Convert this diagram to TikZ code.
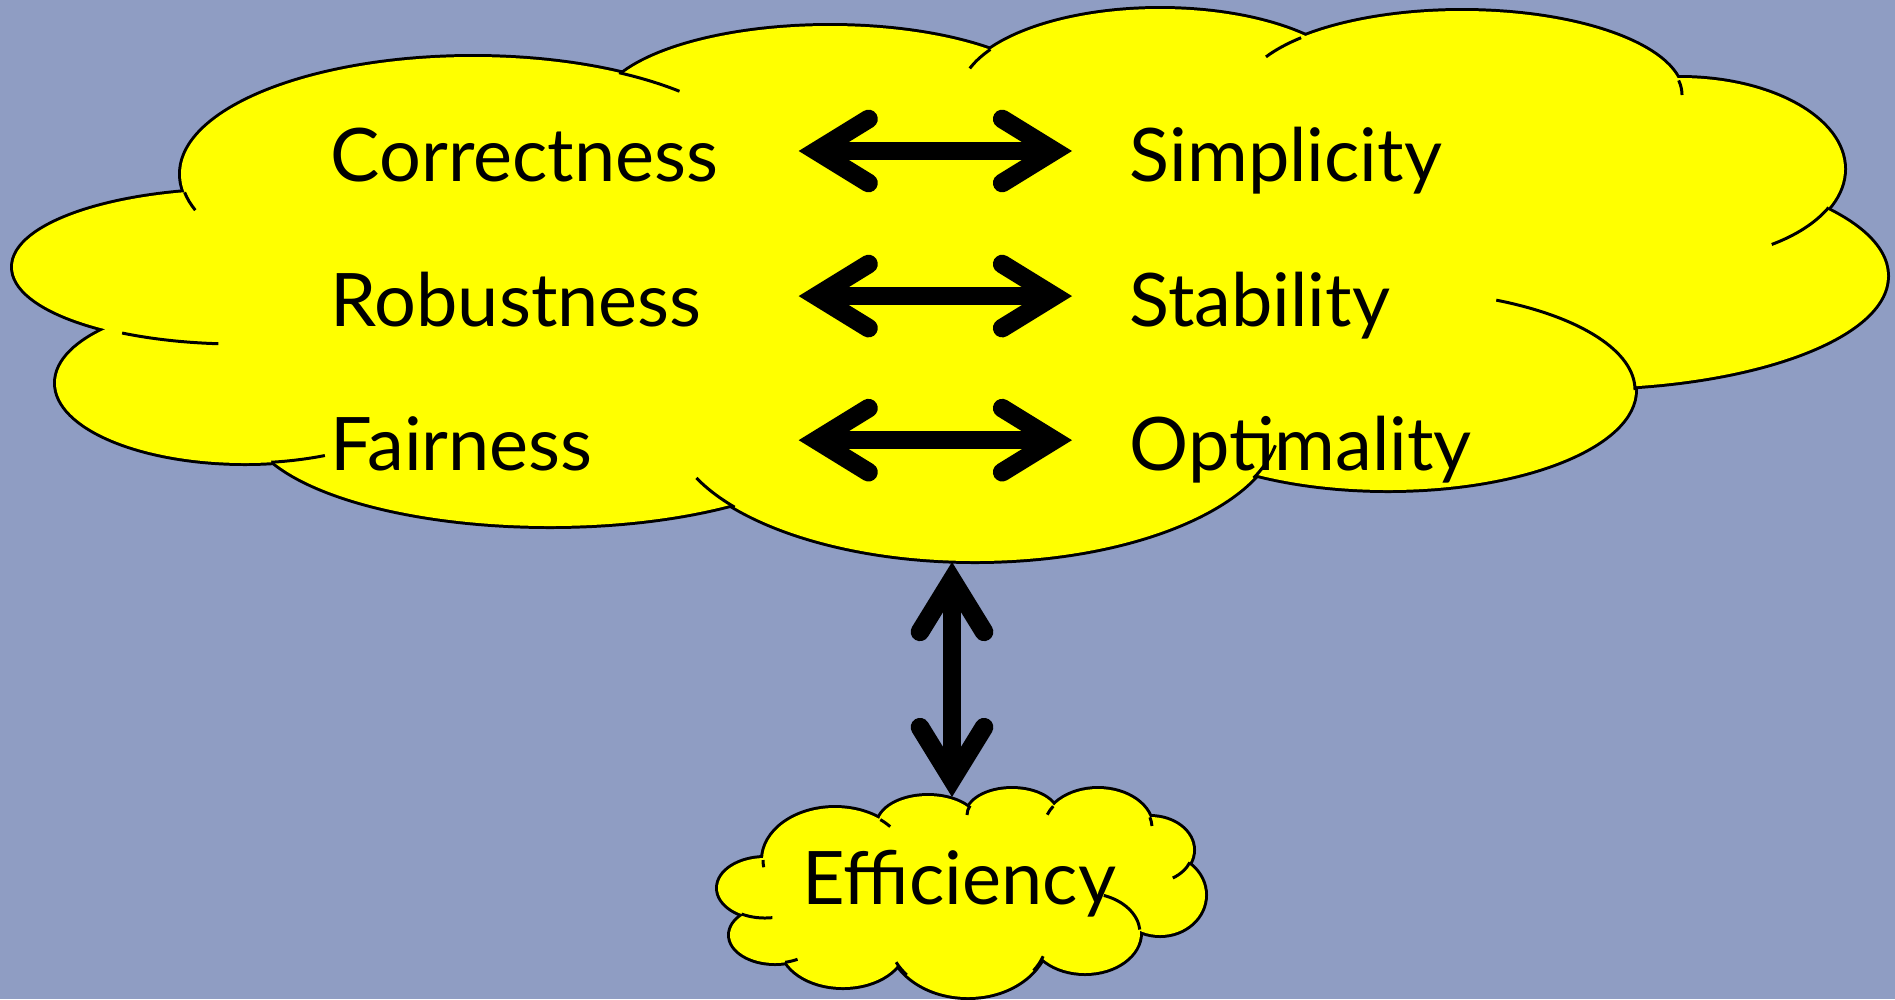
\documentclass[tikz,border=0pt]{standalone}
\usepackage{fontspec}
\setmainfont{Lato}
\usetikzlibrary{arrows.meta,positioning}

\definecolor{slate}{RGB}{143,157,195}
\definecolor{puff}{RGB}{255,255,0}

\tikzset{
word/.style={font=\fontsize{21}{25}\selectfont, inner sep=0pt, anchor=base west},
lword/.style={word, text width=4.67cm, align=left},
rword/.style={word, inner xsep=0.57cm},
barb/.tip={Straight Barb[length=0.52cm, width=0.64cm, line cap=round]},
twohead/.style={line width=5.3pt, barb-barb},
rim/.style={draw=black, line width=1.7pt, fill=puff},
stub/.style={draw=black, line width=0.85pt}
}

% puffs: centre x/centre y/x radius/y radius (y runs down)
\def\bigpuffs{473/174/292/117, 830/110/230/84, 1160/95/200/86, 1462/95/220/84,
1680/169/164/91, 1580/276/307/112, 1388/390/247/100, 975/421/305/140,
550/420/301/106, 245/383/189/80, 238/267/225/77}
\def\smallpuffs{775/935/45/28, 765/888/47/30, 835/860/72/52, 928/825/50/29,
1012/815/45/26, 1098/828/54/39, 1150/850/43/33, 1160/895/45/40,
1085/933/55/40, 968/935/80/62, 843/945/62/42}

\begin{document}
\begin{tikzpicture}[x=0.01cm, y=-0.01cm]
\fill[slate] (0,0) rectangle (1895,999);
\useasboundingbox (0,0) rectangle (1895,999);

% big cloud
\foreach \cx/\cy/\a/\b in \bigpuffs
  \draw[rim] (\cx,\cy) ellipse [x radius=\a, y radius=\b];
\foreach \cx/\cy/\a/\b in \bigpuffs
  \fill[puff] (\cx,\cy) ellipse [x radius=\a, y radius=\b];
\fill[puff] (473,174) -- (830,110) -- (1160,95) -- (1462,95) -- (1680,169) -- (1580,276)
  -- (1388,390) -- (975,421) -- (550,420) -- (245,383) -- (238,267) -- cycle;
\foreach \cx/\cy/\a/\b/\s/\e in {473/174/292/117/-60/-45, 473/174/292/117/171/162,
  1160/95/200/86/-148/-162, 1462/95/220/84/-137/-153, 1462/95/220/84/-10/0,
  1680/169/164/91/25/56, 1388/390/247/100/0/-64, 975/421/305/140/24/10,
  975/421/305/140/142/156, 245/383/189/80/82/65, 238/267/225/77/121/95}
  \draw[stub] ({\cx+\a*cos(\s)},{\cy+\b*sin(\s)}) arc [start angle=\s, end angle=\e, x radius=\a, y radius=\b];

% small cloud
\foreach \cx/\cy/\a/\b in \smallpuffs
  \draw[rim] (\cx,\cy) ellipse [x radius=\a, y radius=\b];
\foreach \cx/\cy/\a/\b in \smallpuffs
  \fill[puff] (\cx,\cy) ellipse [x radius=\a, y radius=\b];
\fill[puff] (775,935) -- (765,888) -- (835,860) -- (928,825) -- (1012,815) -- (1098,828)
  -- (1150,850) -- (1160,895) -- (1085,933) -- (968,935) -- (843,945) -- cycle;
\foreach \cx/\cy/\a/\b/\s/\e in {775/935/45/28/77/60, 765/888/47/30/120/81,
  835/860/72/52/180/172, 835/860/72/52/-51/-40, 1012/815/45/26/-159/-180,
  1098/828/54/39/-146/-160, 1098/828/54/39/-16/-3, 1150/850/43/33/22/58,
  1085/933/55/40/-5/-70, 968/935/80/62/140/154, 968/935/80/62/35/20}
  \draw[stub] ({\cx+\a*cos(\s)},{\cy+\b*sin(\s)}) arc [start angle=\s, end angle=\e, x radius=\a, y radius=\b];

% words
\node[lword] (corr) at (330,181) {Correctness};
\node[lword, below=1.45cm of corr.base west, anchor=base west] (rob) {Robustness};
\node[lword, below=1.44cm of rob.base west, anchor=base west] (fair) {Fairness};
\node[rword] (simp) at (1072,181) {Simplicity};
\node[rword, below=1.45cm of simp.base west, anchor=base west] (stab) {Stability};
\node[rword, below=1.44cm of stab.base west, anchor=base west] (opti) {Optimality};
\node[word] (eff) at (802,904) {Efficiency};

% arrows
\foreach \l/\r in {corr/simp, rob/stab, fair/opti}
  \draw[twohead] ([yshift=0.3cm]\l.base east) -- ([yshift=0.3cm]\r.base west);
\coordinate (bigfoot) at (952,562);
\coordinate (smalltop) at (952,797);
\draw[twohead] (bigfoot) -- (smalltop);
\end{tikzpicture}
\end{document}
